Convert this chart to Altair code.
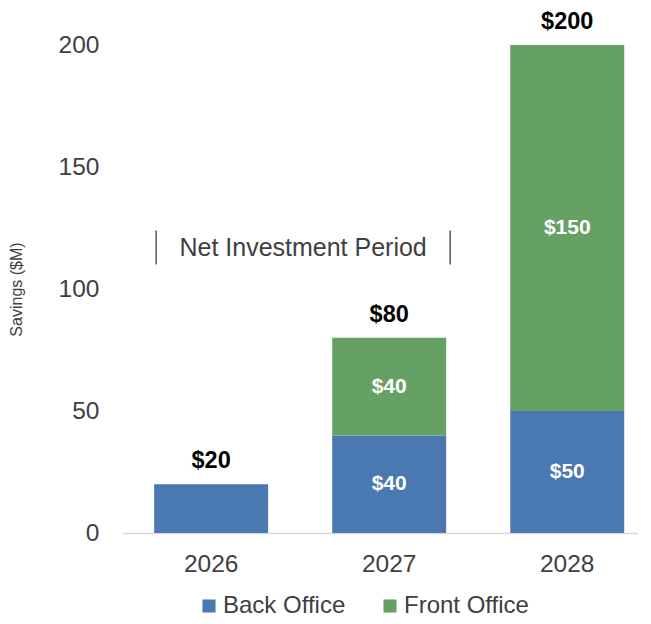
import altair as alt
import pandas as pd

years = ["2026", "2027", "2028"]
back_office = [20, 40, 50]
front_office = [0, 40, 150]
show_inner = [False, True, True]
annotation_text = "Net Investment Period"
annotation_y = 117
annotation_span = [124, 110]

BLUE = "#4a78b0"
GREEN = "#65a165"
FONT = "Liberation Sans"
TXT = "#404040"

rows = []
for y, b, f in zip(years, back_office, front_office):
    rows.append({"year": y, "segment": "Back Office", "value": b})
    rows.append({"year": y, "segment": "Front Office", "value": f})
df = pd.DataFrame(rows)

inner = []
for y, b, f, s in zip(years, back_office, front_office, show_inner):
    if s:
        inner.append({"year": y, "mid": b / 2, "label": f"${b}"})
        inner.append({"year": y, "mid": b + f / 2, "label": f"${f}"})
inner_df = pd.DataFrame(inner)

tot_df = pd.DataFrame({"year": years,
                       "total": [b + f for b, f in zip(back_office, front_office)]})
tot_df["label"] = tot_df["total"].map(lambda v: f"${v}")

x_scale = alt.Scale(domain=years, paddingInner=0.36, paddingOuter=0.129, align=0.7)
y_scale = alt.Scale(domain=[0, 200], nice=False)

bars = alt.Chart(df).mark_bar().encode(
    x=alt.X("year:N", scale=x_scale, sort=years,
            axis=alt.Axis(title=None, labelAngle=0, labelFontSize=24.5, labelColor=TXT,
                          labelFont=FONT, ticks=False, domainColor="#d9d9d9",
                          domainWidth=1.5, labelPadding=19)),
    y=alt.Y("value:Q", stack="zero", scale=y_scale,
            axis=alt.Axis(title="Savings ($M)", values=[0, 50, 100, 150, 200], grid=False,
                          domain=False, ticks=False, labelFontSize=24.5, labelColor=TXT,
                          labelFont=FONT, labelPadding=23, titleFontSize=16,
                          titleFontWeight="normal", titleColor=TXT, titleFont=FONT,
                          titlePadding=34)),
    color=alt.Color("segment:N",
                    scale=alt.Scale(domain=["Back Office", "Front Office"], range=[BLUE, GREEN]),
                    legend=alt.Legend(title=None, orient="none", direction="horizontal",
                                      legendX=75, legendY=549, symbolType="square",
                                      symbolSize=170, labelFontSize=24, labelColor=TXT,
                                      labelFont=FONT, columnPadding=32, symbolOpacity=1,
                                      labelOffset=2)),
    order=alt.Order("segment:N", sort="ascending"),
)

inner_text = alt.Chart(inner_df).mark_text(
    color="white", fontWeight="bold", fontSize=21, font=FONT
).encode(
    x=alt.X("year:N", scale=x_scale, sort=years),
    y=alt.Y("mid:Q", scale=y_scale),
    text="label:N",
)

tot_text = alt.Chart(tot_df).mark_text(
    color="black", fontWeight="bold", fontSize=23.5, font=FONT, dy=-23
).encode(
    x=alt.X("year:N", scale=x_scale, sort=years),
    y=alt.Y("total:Q", scale=y_scale),
    text="label:N",
)

ann_df = pd.DataFrame({"year": ["2026"], "y": [annotation_y], "label": [annotation_text]})
ann_text = alt.Chart(ann_df).mark_text(
    fontSize=25, color=TXT, font=FONT, dx=35
).encode(
    x=alt.X("year:N", scale=x_scale, sort=years, bandPosition=1),
    y=alt.Y("y:Q", scale=y_scale),
    text="label:N",
)

line_df = pd.DataFrame({"year": ["2026"], "y1": [annotation_span[0]], "y2": [annotation_span[1]]})
line_df2 = pd.DataFrame({"year": ["2027"], "y1": [annotation_span[0]], "y2": [annotation_span[1]]})
left_line = alt.Chart(line_df).mark_rule(color="#595959", strokeWidth=1.5, xOffset=2).encode(
    x=alt.X("year:N", scale=x_scale, sort=years, bandPosition=0),
    y=alt.Y("y1:Q", scale=y_scale),
    y2="y2:Q",
)
right_line = alt.Chart(line_df2).mark_rule(color="#595959", strokeWidth=1.5, xOffset=4).encode(
    x=alt.X("year:N", scale=x_scale, sort=years, bandPosition=1),
    y=alt.Y("y1:Q", scale=y_scale),
    y2="y2:Q",
)

chart = alt.layer(bars, inner_text, tot_text, ann_text, left_line, right_line).properties(
    width=516, height=488, background="white",
    padding={"left": 0, "top": 2, "right": 0, "bottom": 0}
).configure_view(stroke=None)

chart.save("out.html", embed_options={"renderer": "svg", "actions": False})
